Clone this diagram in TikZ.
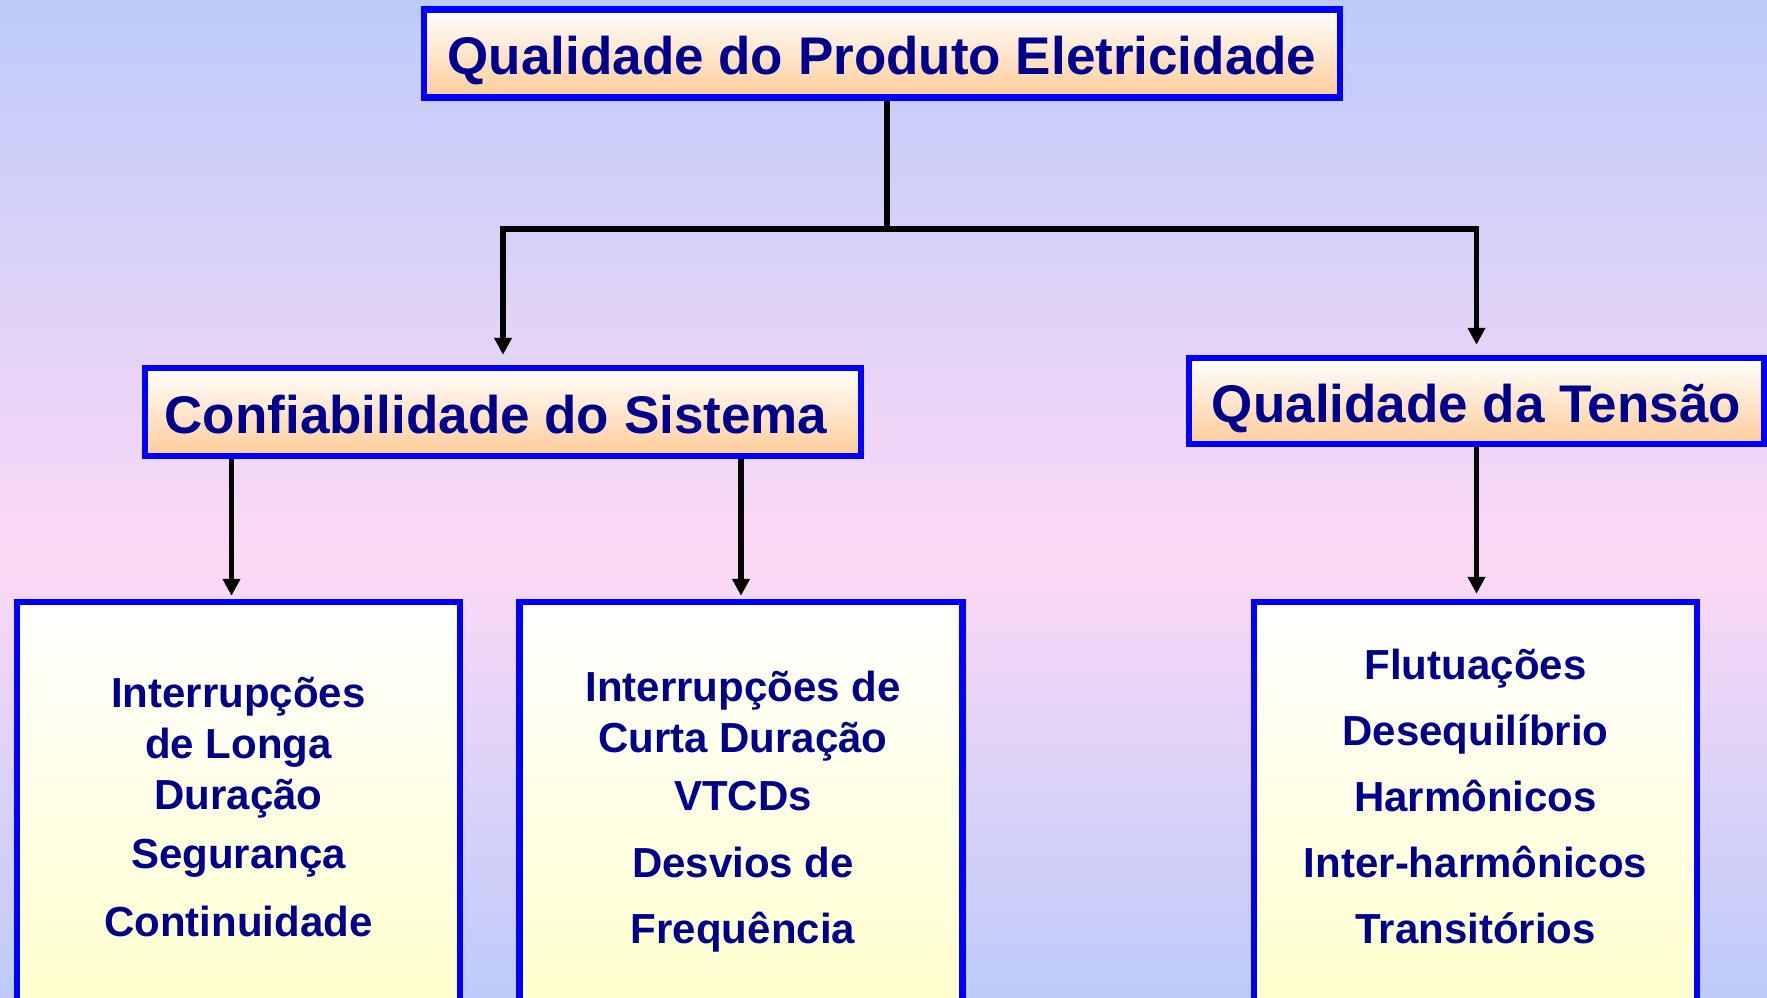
\documentclass[tikz,border=0pt]{standalone}
\usepackage{fontspec}
\setmainfont{Liberation Sans}
\usetikzlibrary{arrows.meta,calc}
\definecolor{bgblue}{RGB}{189,203,250}
\definecolor{bgpink}{RGB}{252,217,245}
\definecolor{framecol}{RGB}{0,0,255}
\definecolor{inkcol}{RGB}{0,0,140}
\definecolor{peach}{RGB}{255,204,153}
\definecolor{cream}{RGB}{255,255,204}
\pgfdeclareverticalshading{backdrop}{100bp}{color(0bp)=(bgblue); color(25bp)=(bgblue); color(47bp)=(bgpink); color(75bp)=(bgblue); color(100bp)=(bgblue)}
\begin{document}
\begin{tikzpicture}[x=1pt,y=-1pt]
  \tikzstyle{headbox}=[draw=framecol, line width=6.5pt, top color=white, bottom color=peach,
    text=inkcol, inner sep=0pt, text height=42pt, text depth=0pt,
    font=\fontsize{53}{60}\selectfont\bfseries]
  \tikzstyle{listbox}=[draw=framecol, line width=6.5pt, top color=white, bottom color=cream,
    minimum width=443pt, minimum height=416pt]
  \tikzstyle{itemlist}=[text=inkcol, anchor=base, align=center, inner sep=0pt,
    font=\fontsize{42}{51}\selectfont\bfseries]
  \tikzstyle{link}=[line width=5.5pt]
  \tikzstyle{feed}=[link, -{Triangle[length=17pt,width=17pt]}, shorten >=10pt]
  \useasboundingbox (0,0) rectangle (1767,997);
  \clip (0,0) rectangle (1767,997);
  \shade[shading=backdrop] (0,0) rectangle (1767,997);
  % boxes
  \node[headbox, minimum width=916pt, minimum height=88pt] (product) at (882,53.5)
    {Qualidade do Produto Eletricidade};
  \node[headbox, minimum width=716pt, minimum height=88pt] (reliab) at (503,412)
    {Confiabilidade do Sistema\hspace*{14pt}};
  \node[headbox, minimum width=575pt, minimum height=86pt] (voltage) at (1476.5,401)
    {Qualidade da Tensão};
  \node[listbox] (longbox) at (238.5,810) {};
  \node[listbox] (shortbox) at (741,810) {};
  \node[listbox] (voltbox) at (1475.5,810) {};
  % lists (base = last line)
  \node[itemlist] (longlist) at ($(longbox.north)+(0,338)$)
    {Interrupções\\de Longa\\Duração\\[8pt]Segurança\\[17pt]Continuidade};
  \node[itemlist] (shortlist) at ($(shortbox.north)+(2,345)$)
    {Interrupções de\\Curta Duração\\[7pt]VTCDs\\[16pt]Desvios de\\[15pt]Frequência};
  \node[itemlist] (voltlist) at ($(voltbox.north)+(0,345)$)
    {Flutuações\\[15pt]Desequilíbrio\\[15pt]Harmônicos\\[15pt]Inter-harmônicos\\[15pt]Transitórios};
  % connectors
  \draw[link] ($(product.south)+(5,0)$) -- ++(0,128) coordinate (fork);
  \draw[feed] (fork) -| (reliab.north);
  \draw[feed] (fork) -| (voltage.north);
  \draw[feed, shorten >=3pt] ($(longbox.north |- reliab.south)+(-7,0)$) -- ($(longbox.north)+(-7,0)$);
  \draw[feed, shorten >=3pt] (shortbox.north |- reliab.south) -- (shortbox.north);
  \draw[feed, shorten >=5pt] (voltage.south) -- (voltage.south |- voltbox.north);
\end{tikzpicture}
\end{document}
